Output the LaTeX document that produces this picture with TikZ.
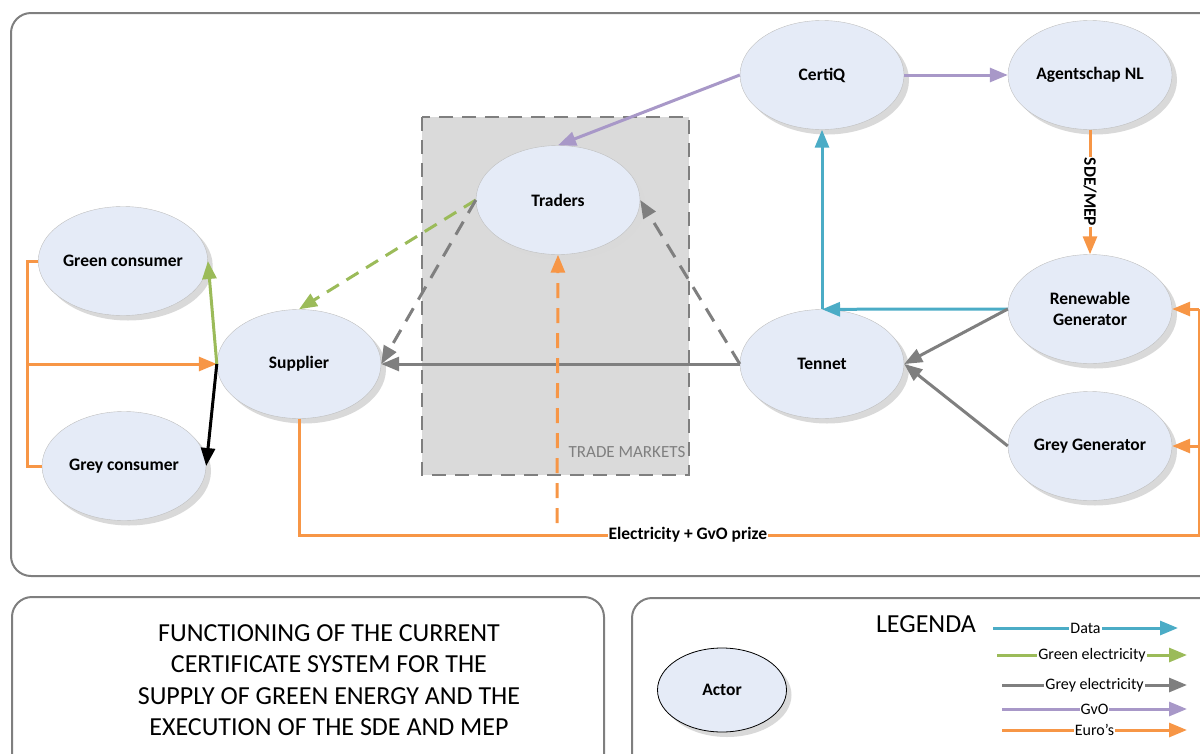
\documentclass[tikz,border=0pt]{standalone}
\usepackage{fontspec}
\setmainfont{Carlito}
\usepackage{xcolor}
\usetikzlibrary{shapes.geometric,shadows,arrows.meta}

\definecolor{cEuro}{HTML}{F79646}
\definecolor{cGreen}{HTML}{9BBB59}
\definecolor{cGrey}{HTML}{7F7F7F}
\definecolor{cData}{HTML}{4BACC6}
\definecolor{cGvo}{HTML}{A898C8}
\definecolor{cActor}{HTML}{E5EBF7}
\definecolor{cMarket}{HTML}{DADADA}

\tikzset{
	actor/.style={ellipse,draw=black!25,fill=cActor,minimum width=164pt,minimum height=109pt,inner sep=0pt,align=center,
		font=\bfseries\fontsize{17.5}{21}\selectfont,
		drop shadow={shadow xshift=5pt,shadow yshift=-5pt,fill=black!15,opacity=1}},
	frame/.style={draw=cGrey,line width=2pt,rounded corners=20pt},
	flowtip/.style={-{Triangle[length=18pt,width=14pt]}},
	euroline/.style={draw=cEuro,line width=3pt},
	euroarr/.style={euroline,flowtip},
	eurodash/.style={euroarr,dash pattern=on 15pt off 10pt},
	greenarr/.style={draw=cGreen,line width=3pt,flowtip},
	greendash/.style={greenarr,dash pattern=on 14pt off 9pt},
	greyarr/.style={draw=cGrey,line width=3pt,flowtip},
	greydash/.style={greyarr,dash pattern=on 15pt off 10pt},
	blackarr/.style={draw=black,line width=3pt,flowtip},
	dataarr/.style={draw=cData,line width=3pt,flowtip},
	gvoarr/.style={draw=cGvo,line width=3pt,flowtip},
	lbl/.style={fill=white,inner sep=1pt,font=\bfseries\fontsize{17.5}{21}\selectfont},
	leglbl/.style={fill=white,inner xsep=1pt,inner ysep=0pt,font=\fontsize{16}{19}\selectfont}
}

\begin{document}
\begin{tikzpicture}[x=1pt,y=-1pt]
	\useasboundingbox (0,0) rectangle (1200,753);
	\draw[frame] (11,13) rectangle (1220,576);
	\draw[frame] (12,597) rectangle (604,775);
	\draw[frame] (632,598) rectangle (1220,775);

	\draw[fill=cMarket,draw=cGrey,line width=1.8pt,dash pattern=on 14pt off 9pt] (422,117) rectangle (689,475);
	\node[text=cGrey,font=\fontsize{17}{20}\selectfont] (mkt) at (627,452) {TRADE MARKETS};

	\node[actor] (gcons) at (123,261) {Green consumer};
	\node[actor] (rcons) at (124,466) {Grey consumer};
	\node[actor] (sup) at (299,364) {Supplier};
	\node[actor] (trd) at (558,200) {Traders};
	\node[actor] (cq) at (822,75) {CertiQ};
	\node[actor] (agnl) at (1090,75) {Agentschap NL};
	\node[actor] (ren) at (1090,309) {Renewable\\Generator};
	\node[actor] (ten) at (822,364) {Tennet};
	\node[actor] (ggen) at (1090,446) {Grey Generator};

	\coordinate (cbus) at (27,364);
	\coordinate (pay) at (557,523);
	\coordinate (ebus) at (1199,535);

	\draw[euroline] (gcons.west) -| (cbus) |- (rcons.west);
	\draw[euroarr] (cbus) -- (sup.west);
	\draw[greenarr] (sup.west) -- (gcons.east);
	\draw[blackarr] (sup.west) -- (rcons.east);

	\draw[greendash] (trd.west) -- (sup.north);
	\draw[greydash] (trd.west) -- (sup.east);
	\draw[greyarr] (ten.west) -- (sup.east);
	\draw[greydash] (ten.west) -- (trd.east);
	\draw[eurodash] (pay) -- (trd.south);

	\draw[gvoarr] (cq.west) -- (trd.north);
	\draw[gvoarr] (cq.east) -- (agnl.west);
	\draw[euroarr] (agnl.south) -- node[lbl,rotate=-90] {SDE/MEP} (ren.north);

	\draw[dataarr] (ren.west) -- (ten.north);
	\draw[dataarr] (ten.north) -- (cq.south);
	\draw[greyarr] (ren.west) -- (ten.east);
	\draw[greyarr] (ggen.west) -- (ten.east);

	\draw[euroline] (sup.south) |- node[lbl,pos=0.716] {Electricity + GvO prize} (ebus) -- (ebus |- ren.east);
	\draw[euroarr] (ebus |- ren.east) -- (ren.east);
	\draw[euroarr] (ebus |- ggen.east) -- (ggen.east);

	\node[align=center,font=\fontsize{26}{31.5}\selectfont] (title) at (329,680) {FUNCTIONING OF THE CURRENT\\CERTIFICATE SYSTEM FOR THE\\SUPPLY OF GREEN ENERGY AND THE\\EXECUTION OF THE SDE AND MEP};

	\node[actor,draw=black,line width=0.8pt,minimum width=129pt,minimum height=84pt] (act) at (722,690) {Actor};
	\node[font=\fontsize{26}{31}\selectfont] (leg) at (926,624) {LEGENDA};
	\foreach \sty/\txt/\xa/\xb/\yy in {dataarr/Data/993/1178/628, greenarr/Green electricity/997/1187/655, greyarr/Grey electricity/1002/1187/685, gvoarr/GvO/1002/1187/709, euroarr/Euro’s/1002/1187/730}{
		\coordinate (la) at (\xa,\yy);
		\coordinate (lb) at (\xb,\yy);
		\draw[\sty] (la) -- node[leglbl] {\txt} (lb);
	}
\end{tikzpicture}
\end{document}
